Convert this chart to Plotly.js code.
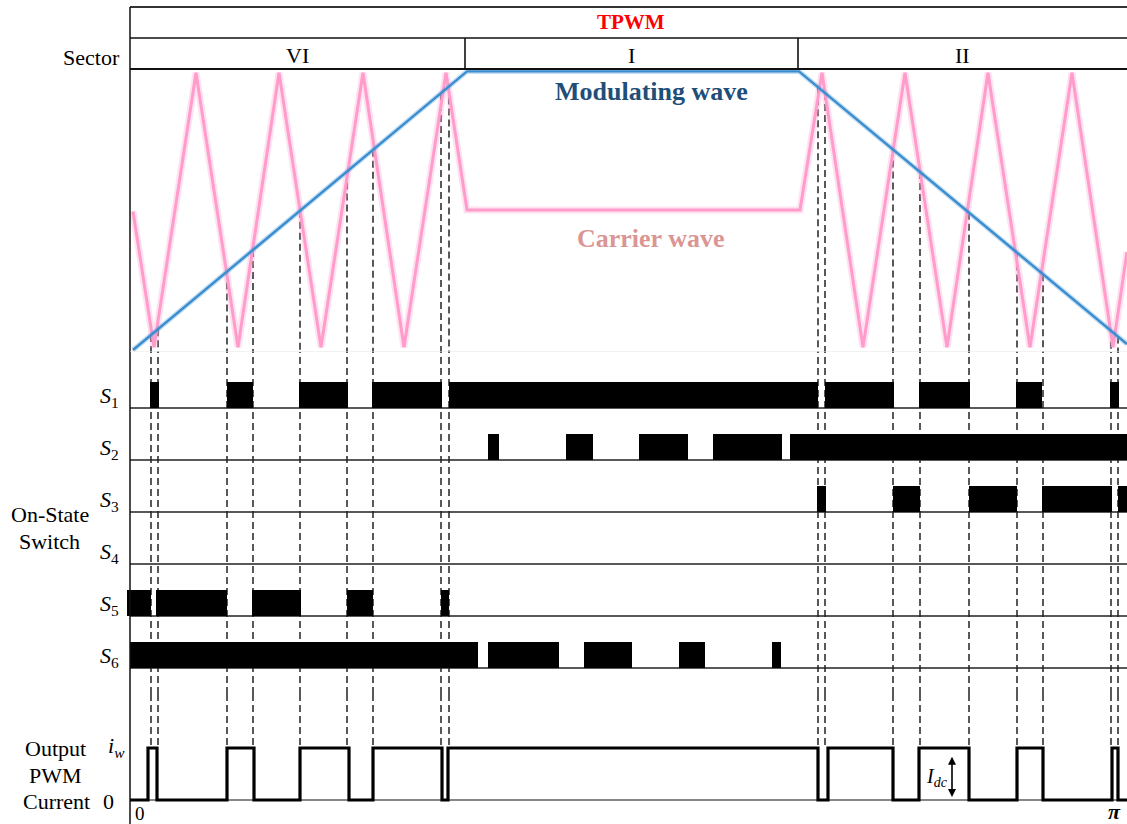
<!DOCTYPE html>
<html><head><meta charset="utf-8">
<script src="https://cdn.plot.ly/plotly-3.0.1.min.js"></script>
<style>html,body{margin:0;padding:0;background:#fff}#chart{width:1127px;height:824px}</style>
</head><body><div id="chart"></div>
<script>
// ---------- data (time axis t in arbitrary angle units, 0 = left edge) ----------
const sectorNames = ['VI', 'I', 'II'];
const sectorBounds = [0, 335, 668, 997];

// carrier (triangular) wave vertices
const carrierT = [3, 24, 66, 108, 149, 191, 233, 274, 316, 337, 670, 692, 733, 775, 817, 858, 900, 942, 983, 997];
const carrierV = [-0.01, -0.98, 0.98, -0.98, 0.98, -0.98, 0.98, -0.98, 0.98, 0, 0, 0.98, -0.98, 0.98, -0.98, 0.98, -0.98, 0.98, -0.98, -0.3];

// modulating (trapezoidal) wave vertices
const modT = [3, 337, 669, 997];
const modV = [-1, 0.99, 0.99, -0.957];

// switch on-intervals [start, end]
const switchNames = ['S1', 'S2', 'S3', 'S4', 'S5', 'S6'];
const S1on = [[20, 29], [97, 123], [169, 218], [242, 312], [319, 688], [695, 764], [789, 840], [886, 912], [980, 989]];
const S2on = [[358, 369], [436, 463], [509, 558], [583, 652], [660, 997]];
const S3on = [[687, 696], [763, 790], [839, 887], [912, 982], [988, 997]];
const S4on = [];
const S5on = [[-3, 21], [26, 97], [122, 171], [217, 243], [311, 319]];
const S6on = [[0, 348], [358, 429], [454, 502], [549, 575], [642, 651]];

// output PWM current high intervals (level 1 = Idc)
const currentOn = [[18, 27], [97, 124], [170, 219], [243, 312], [318, 688], [698, 763], [789, 839], [887, 913], [982, 988]];

// intersections of carrier and modulating wave
const crossT = [21, 28, 97, 123, 170, 217, 243, 311, 319, 688, 695, 763, 790, 839, 887, 913, 981, 988];

// ---------- geometry helpers (layout only) ----------
const W = 1127, H = 824, L = 127;
const py = p => 1 - p / H;            // pixel row -> paper y
const px = p => (p - L) / (W - L);     // pixel col -> paper x
const FONT = 'Liberation Serif, Times New Roman, serif';

function modAt(t) {
  for (let i = 0; i < modT.length - 1; i++) {
    if (t >= modT[i] && t <= modT[i + 1]) {
      const f = (t - modT[i]) / (modT[i + 1] - modT[i]);
      return modV[i] + f * (modV[i + 1] - modV[i]);
    }
  }
  return modV[modV.length - 1];
}

const waveRange = [-1.0143, 1];
const swRange = [6.5, -0.0769];
const curRange = [-0.4615, 2.0385];

// ---------- traces ----------
const traces = [];
traces.push({x: carrierT, y: carrierV, mode: 'lines', xaxis: 'x', yaxis: 'y',
  line: {color: 'rgba(255,170,210,0.35)', width: 7}, hoverinfo: 'skip'});
traces.push({x: carrierT, y: carrierV, mode: 'lines', xaxis: 'x', yaxis: 'y',
  line: {color: '#ff9ccb', width: 3}, hoverinfo: 'skip'});
traces.push({x: modT, y: modV, mode: 'lines', xaxis: 'x', yaxis: 'y',
  line: {color: 'rgba(90,160,220,0.35)', width: 5}, hoverinfo: 'skip'});
traces.push({x: modT, y: modV, mode: 'lines', xaxis: 'x', yaxis: 'y',
  line: {color: '#3a8ed0', width: 2.4}, hoverinfo: 'skip'});

// switch bars
const allOn = [S1on, S2on, S3on, S4on, S5on, S6on];
const bx = [], bb = [], by = [];
allOn.forEach((iv, k) => iv.forEach(([s, e]) => { bx.push(e - s); bb.push(s); by.push(k + 1); }));
traces.push({type: 'bar', orientation: 'h', x: bx, base: bb, y: by, width: 0.5, offset: -0.5,
  xaxis: 'x', yaxis: 'y2', marker: {color: '#000', line: {width: 0}}, hoverinfo: 'skip'});

// output current step waveform
const cx = [0], cy = [0];
currentOn.forEach(([s, e]) => { cx.push(s, s, e, e); cy.push(0, 1, 1, 0); });
cx.push(997); cy.push(0);
traces.push({x: cx, y: cy, mode: 'lines', xaxis: 'x', yaxis: 'y3',
  line: {color: '#000', width: 3.2}, hoverinfo: 'skip', cliponaxis: false});

// ---------- shapes ----------
const shapes = [];
const hline = (yp, w, c) => ({type: 'line', xref: 'x', yref: 'paper', x0: 0, x1: 997, y0: yp, y1: yp, line: {color: c || '#111', width: w}});
shapes.push(hline(py(7), 2, '#333'));
shapes.push(hline(py(38), 1.6));
shapes.push(hline(py(69), 2));
shapes.push({type: 'line', xref: 'x', yref: 'paper', x0: 0, x1: 0, y0: 0, y1: py(7), line: {color: '#111', width: 1.5}});
sectorBounds.slice(1, -1).forEach(b => shapes.push({type: 'line', xref: 'x', yref: 'paper', x0: b, x1: b, y0: py(69), y1: py(38), line: {color: '#111', width: 1.6}}));
// faint bottom of wave panel
shapes.push({type: 'line', xref: 'x', yref: 'y', x0: 0, x1: 997, y0: waveRange[0], y1: waveRange[0], line: {color: '#e4e4e4', width: 1}});
// switch row baselines
switchNames.forEach((n, k) => shapes.push({type: 'line', xref: 'x', yref: 'y2', x0: 0, x1: 997, y0: k + 1, y1: k + 1, line: {color: '#222', width: 1.4}, layer: 'below'}));
// current zero axis
shapes.push({type: 'line', xref: 'x', yref: 'y3', x0: 0, x1: 997, y0: 0, y1: 0, line: {color: '#111', width: 1.2}, layer: 'below'});
// dashed projection lines
const dashL = {color: '#000', width: 1.3, dash: '7px,4px'};
crossT.forEach(t => {
  shapes.push({type: 'line', xref: 'x', yref: 'y', x0: t, x1: t, y0: modAt(t), y1: waveRange[0], line: dashL, layer: 'below'});
  shapes.push({type: 'line', xref: 'x', yref: 'y2 domain', x0: t, x1: t, y0: 0, y1: 1, line: dashL, layer: 'below'});
  shapes.push({type: 'line', xref: 'x', yref: 'y3', x0: t, x1: t, y0: curRange[1], y1: 1, line: dashL, layer: 'below'});
});

// ---------- annotations ----------
const ann = [];
const txt = (x, y, text, size, extra) => Object.assign({xref: 'paper', yref: 'paper', x: px(x), y: py(y), text: text,
  showarrow: false, xanchor: 'center', yanchor: 'middle', font: {family: FONT, size: size, color: '#000'}}, extra || {});
ann.push(txt(631, 22, '<b>TPWM</b>', 21, {font: {family: FONT, size: 21, color: '#ff0000'}}));
sectorNames.forEach((n, i) => ann.push({xref: 'x', yref: 'paper', x: (sectorBounds[i] + sectorBounds[i + 1]) / 2, y: py(55),
  text: n, showarrow: false, xanchor: 'center', yanchor: 'middle', font: {family: FONT, size: 22, color: '#000'}}));
ann.push(txt(91, 58, 'Sector', 22));
ann.push(txt(651, 92, '<b>Modulating wave</b>', 26, {font: {family: FONT, size: 26, color: '#1f4e79'}}));
ann.push(txt(651, 238, '<b>Carrier wave</b>', 26, {font: {family: FONT, size: 26, color: '#d99694'}}));
switchNames.forEach((n, k) => ann.push({xref: 'paper', yref: 'y2', x: px(109), y: k + 1 - 0.22,
  text: '<i>' + n[0] + '</i><sub>' + n.slice(1) + '</sub>', showarrow: false, xanchor: 'center', yanchor: 'middle',
  font: {family: FONT, size: 22, color: '#000'}}));
ann.push(txt(50, 514, 'On-State', 22));
ann.push(txt(49, 541, 'Switch', 22));
ann.push(txt(55, 748, 'Output', 22));
ann.push(txt(55, 775, 'PWM', 22));
ann.push(txt(56, 801, 'Current', 22));
ann.push(txt(116, 747, '<i>i</i><sub><i>w</i></sub>', 22));
ann.push(txt(108, 801, '0', 22));
ann.push(txt(140, 813, '0', 19));
ann.push(txt(1114, 811, '<b><i>π</i></b>', 22));
ann.push({xref: 'x', yref: 'y3', x: 807, y: 0.44, text: '<i>I</i><sub><i>dc</i></sub>', showarrow: false,
  xanchor: 'center', yanchor: 'middle', font: {family: FONT, size: 20, color: '#000'}});
ann.push({xref: 'x', yref: 'y3', x: 822, y: 0.06, axref: 'x', ayref: 'y3', ax: 822, ay: 0.86, text: '',
  showarrow: true, arrowside: 'end+start', arrowhead: 2, arrowsize: 1, arrowwidth: 1.6, arrowcolor: '#000'});

const layout = {
  width: W, height: H,
  margin: {l: L, r: 0, t: 0, b: 0, pad: 0},
  paper_bgcolor: '#fff', plot_bgcolor: 'rgba(0,0,0,0)',
  showlegend: false,
  font: {family: FONT},
  xaxis: {range: [-3, 997], visible: false, fixedrange: true},
  yaxis: {domain: [py(352), py(70)], range: waveRange, visible: false, fixedrange: true},
  yaxis2: {domain: [py(694), py(352)], range: swRange, visible: false, fixedrange: true},
  yaxis3: {domain: [0, py(694)], range: curRange, visible: false, fixedrange: true},
  shapes: shapes,
  annotations: ann
};

Plotly.newPlot('chart', traces, layout, {staticPlot: true, displayModeBar: false});
</script></body></html>
